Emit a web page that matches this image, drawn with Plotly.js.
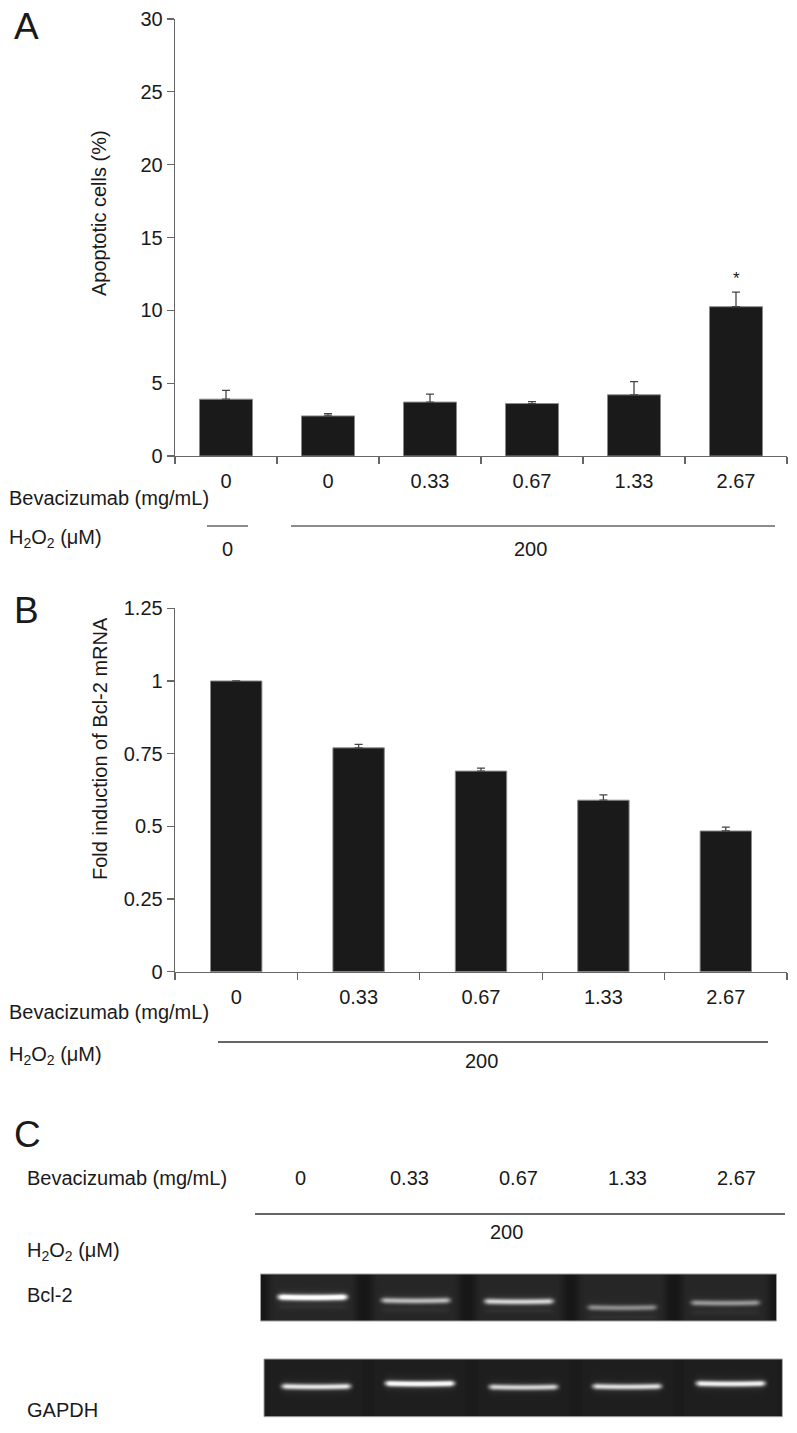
<!DOCTYPE html>
<html><head><meta charset="utf-8">
<script src="https://cdn.plot.ly/plotly-3.0.1.min.js"></script>
<style>html,body{margin:0;padding:0;background:#fff}#chart{width:797px;height:1433px}</style>
</head><body><div id="chart"></div>
<script>
// ---------- Panel A data ----------
const groupsA = ['a1','a2','a3','a4','a5','a6'];
const bevLabelsA = ['0','0','0.33','0.67','1.33','2.67'];
const apoptoticPct = [3.9, 2.75, 3.7, 3.6, 4.2, 10.25];
const apoptoticErr = [0.6, 0.15, 0.55, 0.13, 0.9, 1.0];
const signifA = ['', '', '', '', '', '*'];
const yTicksA = [0, 5, 10, 15, 20, 25, 30];
const h2o2GroupsA = ['0', '200'];

// ---------- Panel B data ----------
const groupsB = ['b1','b2','b3','b4','b5'];
const bevLabelsB = ['0','0.33','0.67','1.33','2.67'];
const bcl2Fold = [1.0, 0.77, 0.69, 0.59, 0.484];
const bcl2Err = [null, 0.012, 0.01, 0.018, 0.013];
const yTicksB = [0, 0.25, 0.5, 0.75, 1, 1.25];
const h2o2B = '200';

// ---------- Panel C data (gel) ----------
const bevLabelsC = ['0','0.33','0.67','1.33','2.67'];
const h2o2C = '200';
const bcl2BandLevel = [1.0, 0.58, 0.68, 0.40, 0.44];
const bcl2BandPos = [0.48, 0.55, 0.57, 0.70, 0.60];
const gapdhBandLevel = [0.8, 0.95, 0.72, 0.76, 0.86];
const gapdhBandPos = [0.48, 0.43, 0.49, 0.48, 0.43];

// ---------- layout helpers ----------
const W = 797, H = 1433;
const FONT = 'Liberation Sans, Arial, Helvetica, sans-serif';
const TXT = '#1a1a1a';
const px = x => x / W;
const py = y => 1 - y / H;
function note(text, x, y, o) {
  o = o || {};
  return Object.assign({
    text: text, x: px(x), y: py(y), xref: 'paper', yref: 'paper',
    xanchor: o.xa || 'left', yanchor: 'middle', showarrow: false,
    font: {family: FONT, size: o.size || 20, color: TXT}
  }, o.extra || {});
}
function hline(x0, x1, y, color) {
  return {type: 'line', xref: 'paper', yref: 'paper', x0: px(x0), x1: px(x1), y0: py(y), y1: py(y),
          line: {color: color || '#555', width: 1.3}};
}

const axisStyle = {
  showgrid: false, zeroline: false, showline: true, linecolor: '#666', linewidth: 1.3,
  ticks: 'outside', ticklen: 7, tickwidth: 1.3, tickcolor: '#666',
  tickfont: {family: FONT, size: 20, color: TXT}
};

// ---------- traces ----------
const traces = [];
traces.push({
  type: 'bar', x: groupsA, y: apoptoticPct, xaxis: 'x', yaxis: 'y', width: 0.52,
  marker: {color: '#1a1a1a', line: {color: '#8a8a8a', width: 1}},
  error_y: {type: 'data', symmetric: false, array: apoptoticErr, arrayminus: apoptoticErr.map(() => 0),
            color: '#444', thickness: 1.3, width: 4},
  hoverinfo: 'skip', showlegend: false
});
traces.push({
  type: 'bar', x: groupsB, y: bcl2Fold, xaxis: 'x2', yaxis: 'y2', width: 0.42,
  marker: {color: '#1a1a1a', line: {color: '#8a8a8a', width: 1}},
  error_y: {type: 'data', symmetric: false, array: bcl2Err, arrayminus: bcl2Err.map(e => e === null ? null : 0),
            color: '#444', thickness: 1.3, width: 4},
  hoverinfo: 'skip', showlegend: false
});

// gel images as heatmaps built from band level/position arrays
function gelMatrix(levels, positions, nx, ny, heightPx, lanesVisible) {
  const n = levels.length;
  const xs = [], ys = [], z = [];
  for (let i = 0; i < nx; i++) xs.push(-0.5 + n * (i + 0.5) / nx);
  for (let j = 0; j < ny; j++) ys.push((j + 0.5) / ny);
  for (let j = 0; j < ny; j++) {
    const row = [];
    for (let i = 0; i < nx; i++) {
      const u = xs[i];
      const k = Math.min(n - 1, Math.max(0, Math.round(u)));
      const du = Math.abs(u - k);
      let bg;
      if (lanesVisible) bg = du < 0.38 ? 0.15 : (du < 0.47 ? 0.15 - (du - 0.38) * 0.9 : 0.07);
      else bg = du < 0.44 ? 0.11 : 0.095;
      const hx = du < 0.28 ? 1 : (du < 0.38 ? 0.5 + 0.5 * Math.cos(Math.PI * (du - 0.28) / 0.10) : 0);
      const curve = 0.6 * (du / 0.35) * (du / 0.35);
      const d = (ys[j] - positions[k]) * heightPx + curve;
      let v = bg + levels[k] * 0.8 * hx * Math.exp(-Math.pow(d / 3.0, 2));
      v += levels[k] * 0.08 * hx * Math.exp(-Math.pow(d / 7, 2));
      if (lanesVisible) {
        const d2 = (ys[j] - positions[k] - 0.2) * heightPx;
        v += 0.04 * hx * Math.exp(-Math.pow(d2 / 2.5, 2));
      }
      row.push(Math.min(1, v));
    }
    z.push(row);
  }
  return {x: xs, y: ys, z: z};
}
const gelScale = [[0, '#0c0c0c'], [0.1, '#1c1c1c'], [0.2, '#303030'], [0.5, '#8a8a8a'], [0.8, '#e2e2e2'], [1, '#ffffff']];
const g1 = gelMatrix(bcl2BandLevel, bcl2BandPos, 258, 47, 47, true);
const g2 = gelMatrix(gapdhBandLevel, gapdhBandPos, 259, 58, 58, false);
traces.push({type: 'heatmap', x: g1.x, y: g1.y, z: g1.z, xaxis: 'x3', yaxis: 'y3', zmin: 0, zmax: 1,
  colorscale: gelScale, showscale: false, hoverinfo: 'skip', zsmooth: 'best'});
traces.push({type: 'heatmap', x: g2.x, y: g2.y, z: g2.z, xaxis: 'x4', yaxis: 'y4', zmin: 0, zmax: 1,
  colorscale: gelScale, showscale: false, hoverinfo: 'skip', zsmooth: 'best'});

// ---------- annotations ----------
const ann = [];
ann.push(note('A', 12, 26, {size: 37}));
ann.push(note('B', 12, 610, {size: 37}));
ann.push(note('C', 12, 1134, {size: 37}));
ann.push(note('Apoptotic cells (%)', 99, 213, {xa: 'center', extra: {textangle: -90}}));
ann.push(note('Fold induction of Bcl-2 mRNA', 100, 749, {xa: 'center', extra: {textangle: -90}}));
signifA.forEach((s, i) => {
  if (s) ann.push({text: s, x: groupsA[i], y: apoptoticPct[i] + apoptoticErr[i], xref: 'x', yref: 'y',
    xanchor: 'center', yanchor: 'bottom', yshift: 2, showarrow: false,
    font: {family: FONT, size: 17, color: TXT}});
});
const h2o2Txt = 'H<sub>2</sub>O<sub>2</sub> (μM)';
ann.push(note('Bevacizumab (mg/mL)', 7, 498));
ann.push(note(h2o2Txt, 7, 539));
ann.push(note(h2o2GroupsA[0], 227, 549, {xa: 'center'}));
ann.push(note(h2o2GroupsA[1], 530, 549, {xa: 'center'}));
ann.push(note('Bevacizumab (mg/mL)', 7, 1012));
ann.push(note(h2o2Txt, 7, 1055));
ann.push(note(h2o2B, 481, 1061, {xa: 'center'}));
ann.push(note('Bevacizumab (mg/mL)', 25, 1178));
ann.push(note(h2o2Txt, 25, 1251));
ann.push(note(h2o2C, 507, 1232, {xa: 'center'}));
ann.push(note('Bcl-2', 25, 1295));
ann.push(note('GAPDH', 25, 1410));
const colX0 = 300, colDX = 109;
bevLabelsC.forEach((t, i) => ann.push(note(t, colX0 + i * colDX, 1178, {xa: 'center'})));

// ---------- shapes ----------
const shapes = [
  hline(207, 248, 526, '#666'), hline(291, 775, 526, '#666'),
  hline(218, 768, 1042, '#333'),
  hline(255, 785, 1214, '#333'),
  {type: 'rect', xref: 'x3 domain', yref: 'y3 domain', x0: 0, x1: 1, y0: 0, y1: 1, line: {color: '#a0a0a0', width: 1}},
  {type: 'rect', xref: 'x4 domain', yref: 'y4 domain', x0: 0, x1: 1, y0: 0, y1: 1, line: {color: '#a0a0a0', width: 1}}
];

const layout = {
  width: W, height: H, margin: {l: 0, r: 0, t: 0, b: 0},
  paper_bgcolor: '#fff', plot_bgcolor: 'rgba(0,0,0,0)', showlegend: false,
  xaxis: Object.assign({}, axisStyle, {domain: [px(175), px(787)], type: 'category',
    tickmode: 'array', tickvals: groupsA, ticktext: bevLabelsA, tickson: 'boundaries',
    range: [-0.5, 5.5], anchor: 'y', ticklabelstandoff: 7}),
  yaxis: Object.assign({}, axisStyle, {domain: [py(456), py(19)], range: [0, 30],
    tickmode: 'array', tickvals: yTicksA, anchor: 'x'}),
  xaxis2: Object.assign({}, axisStyle, {domain: [px(175), px(787)], type: 'category',
    tickmode: 'array', tickvals: groupsB, ticktext: bevLabelsB, tickson: 'boundaries',
    range: [-0.5, 4.5], anchor: 'y2', ticklabelstandoff: 7}),
  yaxis2: Object.assign({}, axisStyle, {domain: [py(971.7), py(608.3)], range: [0, 1.25],
    tickmode: 'array', tickvals: yTicksB, anchor: 'x2'}),
  xaxis3: {domain: [px(260.5), px(776.5)], range: [-0.5, 4.5], visible: false, anchor: 'y3'},
  yaxis3: {domain: [py(1321), py(1274)], range: [1, 0], visible: false, anchor: 'x3'},
  xaxis4: {domain: [px(264), px(782.4)], range: [-0.5, 4.5], visible: false, anchor: 'y4'},
  yaxis4: {domain: [py(1416.7), py(1359)], range: [1, 0], visible: false, anchor: 'x4'},
  annotations: ann, shapes: shapes
};

Plotly.newPlot('chart', traces, layout, {staticPlot: true, displayModeBar: false});
</script>
</body></html>
